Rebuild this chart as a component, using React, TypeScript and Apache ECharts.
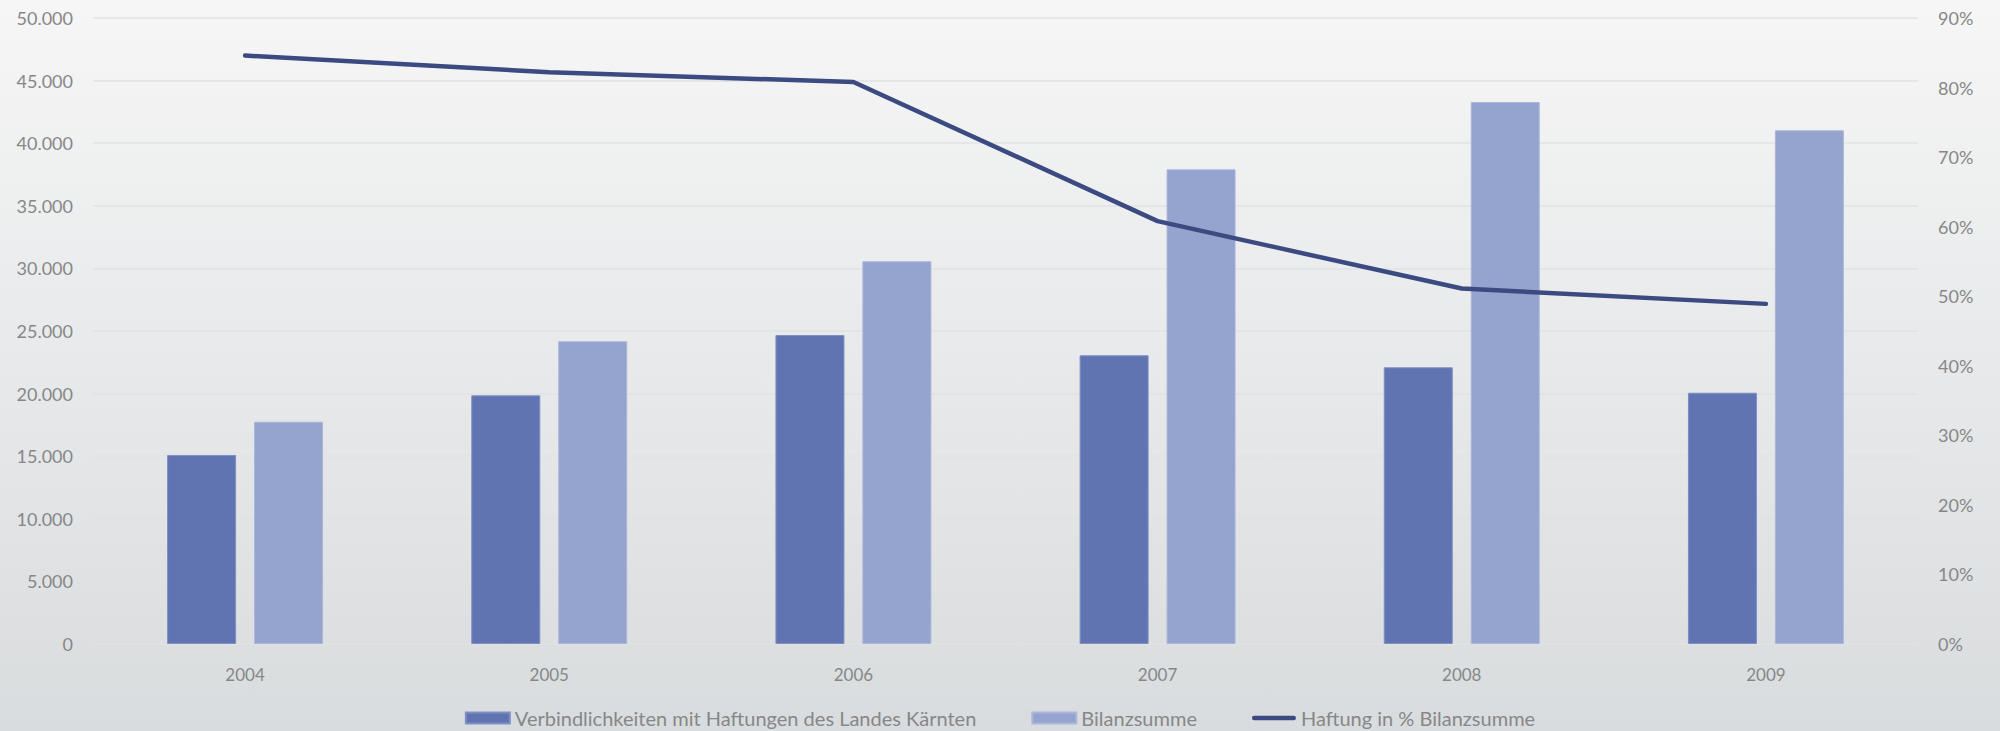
import React, { useEffect, useRef } from "react";
import * as echarts from "echarts";

const years = ["2004", "2005", "2006", "2007", "2008", "2009"];
const verbindlichkeiten = [15100, 19860, 24680, 23060, 22100, 20070];
const bilanzsumme = [17750, 24180, 30570, 37910, 43290, 41030];
const haftungPct = [0.846, 0.822, 0.808, 0.608, 0.511, 0.489];

const leftTicksMax = 50000;
const rightTicksMax = 0.9;

const fmtThousands = (v: number) =>
  String(Math.round(v)).replace(/\B(?=(\d{3})+(?!\d))/g, ".");

export default function App() {
  const ref = useRef<HTMLDivElement>(null);
  useEffect(() => {
    if (!ref.current) return;
    const chart = echarts.init(ref.current, undefined, { renderer: "svg" });
    const font = "Lato";
    const gray = "#878787";
    chart.setOption({
      animation: false,
      backgroundColor: new echarts.graphic.LinearGradient(0, 0, 0, 1, [
        { offset: 0, color: "#f6f6f6" },
        { offset: 1, color: "#d9dcde" },
      ]),
      grid: { left: 93, right: 82, top: 18, bottom: 87 },
      legend: {
        top: 703,
        left: "center",
        itemWidth: 44,
        itemHeight: 11,
        itemGap: 55,
        textStyle: { color: gray, fontFamily: font, fontSize: 20 },
        data: [
          { name: "Verbindlichkeiten mit Haftungen des Landes Kärnten", icon: "rect" },
          { name: "Bilanzsumme", icon: "rect" },
          {
            name: "Haftung in % Bilanzsumme",
            icon: "path://M2.5,0 H47.5 A2.5,2.5 0 0 1 47.5,5 H2.5 A2.5,2.5 0 0 1 2.5,0 Z",
            itemStyle: { color: "#3b4a80" },
          },
        ],
      },
      xAxis: {
        type: "category",
        data: years,
        axisLine: { show: false },
        axisTick: { show: false },
        axisLabel: { color: gray, fontFamily: font, fontSize: 17, margin: 22 },
      },
      yAxis: [
        {
          type: "value",
          min: 0,
          max: leftTicksMax,
          interval: 5000,
          axisLine: { show: false },
          axisTick: { show: false },
          splitLine: { lineStyle: { color: "#e1e2e3", width: 1.5 } },
          axisLabel: {
            color: gray,
            fontFamily: font,
            fontSize: 18,
            margin: 20,
            formatter: (v: number) => fmtThousands(v),
          },
        },
        {
          type: "value",
          min: 0,
          max: rightTicksMax,
          interval: 0.1,
          axisLine: { show: false },
          axisTick: { show: false },
          splitLine: { show: false },
          axisLabel: {
            color: gray,
            fontFamily: font,
            fontSize: 18,
            margin: 20,
            formatter: (v: number) => `${Math.round(v * 100)}%`,
          },
        },
      ],
      series: [
        {
          name: "Verbindlichkeiten mit Haftungen des Landes Kärnten",
          type: "bar",
          data: verbindlichkeiten,
          barWidth: 69,
          barGap: "26%",
          itemStyle: { color: "#6074b2", borderColor: "#7e8fc4", borderWidth: 1 },
        },
        {
          name: "Bilanzsumme",
          type: "bar",
          data: bilanzsumme,
          barWidth: 69,
          barGap: "26%",
          itemStyle: { color: "#95a3cf", borderColor: "#abb6da", borderWidth: 1 },
        },
        {
          name: "Haftung in % Bilanzsumme",
          type: "line",
          yAxisIndex: 1,
          data: haftungPct,
          symbol: "none",
          lineStyle: { color: "#3b4a80", width: 4.5, cap: "round", join: "round" },
          itemStyle: { color: "#3b4a80" },
          z: 5,
        },
      ],
    });
    return () => chart.dispose();
  }, []);
  return (
    <div
      ref={ref}
      style={{ position: "fixed", left: 0, top: 0, width: 2000, height: 731 }}
    />
  );
}
